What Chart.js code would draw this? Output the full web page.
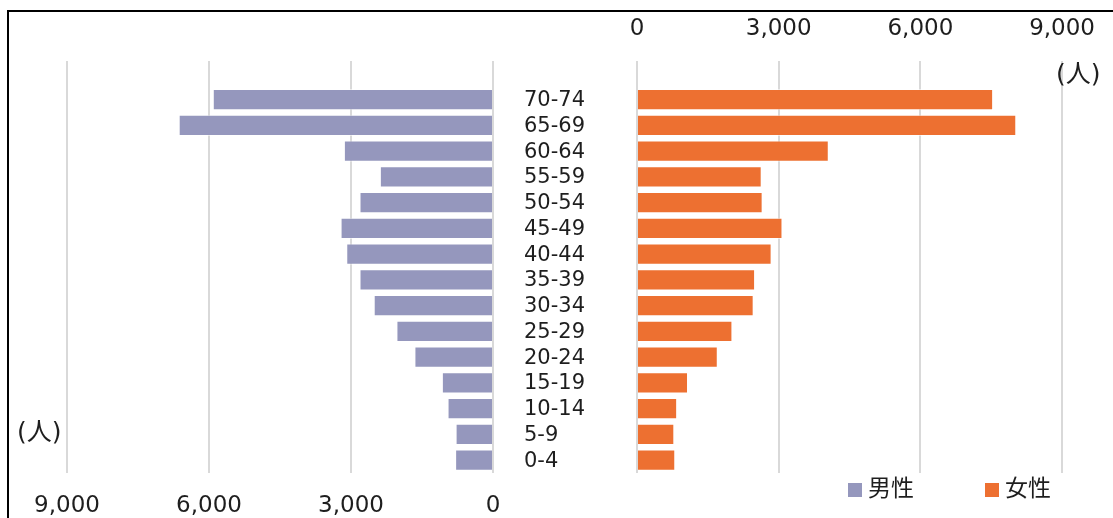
<!DOCTYPE html>
<html>
<head>
<meta charset="utf-8">
<script src="https://cdn.jsdelivr.net/npm/chart.js@4/dist/chart.umd.min.js"></script>
<style>
    body { margin: 0; background: #fff; }
    #wrap { position: relative; width: 1113px; height: 518px; overflow: hidden; font-family: "DejaVu Sans", Verdana, sans-serif; color: #1e1e1e; }
    #frame { position: absolute; left: 7px; top: 10px; width: 1300px; height: 700px; border: 2px solid #000; box-sizing: border-box; }
    canvas { position: absolute; left: 0; top: 0; }
    .unit { position: absolute; font-size: 25px; line-height: 26px; font-family: "DejaVu Sans", "Noto Sans CJK JP", sans-serif; }
    .key { position: absolute; top: 471px; height: 30px; line-height: 30px; font-size: 23px; font-family: "Noto Sans CJK JP", sans-serif; white-space: nowrap; }
    .key i { display: inline-block; width: 14px; height: 14px; margin-right: 6px; vertical-align: -1px; }
</style>
</head>
<body>
<div id="wrap">
    <div id="frame"></div>
    <canvas id="maleChart" width="1113" height="518"></canvas>
    <canvas id="femaleChart" width="1113" height="518"></canvas>
    <div class="unit" style="left:1056px; top:61px">(人)</div>
    <div class="unit" style="left:17px; top:419px">(人)</div>
    <div class="key" style="left:848px"><i style="background:#9597BD"></i>男性</div>
    <div class="key" style="left:985px"><i style="background:#ED7031"></i>女性</div>
</div>
<script>
let ageGroups = ["70-74", "65-69", "60-64", "55-59", "50-54", "45-49", "40-44", "35-39",
    "30-34", "25-29", "20-24", "15-19", "10-14", "5-9", "0-4"]
let maleValues = [5920, 6640, 3150, 2390, 2820, 3220, 3100, 2820, 2520, 2040, 1660, 1080, 960, 790, 800]
let femaleValues = [7540, 8030, 4060, 2640, 2660, 3080, 2850, 2500, 2470, 2020, 1710, 1080, 850, 790, 810]
let axisTicks = [0, 3000, 6000, 9000]

const MALE_COLOR = "#9597BD"
const FEMALE_COLOR = "#ED7031"
const GRID = "#D9D9D9"
const TEXT = "#1e1e1e"

// empty band above 70-74 (the plot area starts one row higher)
let rowLabels = [""].concat(ageGroups)

//#region shared axis config
ValueAxis = (position, reverse, pad) => ({
    type: "linear",
    position,
    reverse,
    min: 0,
    max: 9000,
    afterBuildTicks: scale => { scale.ticks = axisTicks.map(value => ({ value })) },
    afterFit: scale => { scale.height = position === "top" ? 61 : 45 },
    grid: { color: GRID, lineWidth: 2, drawTicks: false },
    border: { display: false },
    ticks: {
        padding: pad,
        color: TEXT,
        font: { family: "DejaVu Sans", size: 23 },
        callback: v => v.toLocaleString("en-US")
    }
})

BarSet = (label, values, color) => ({
    label,
    data: [null].concat(values),
    backgroundColor: color,
    borderColor: "rgba(255,255,255,0.55)",
    borderWidth: 1,
    categoryPercentage: 1,
    barPercentage: 0.82
})

const common = {
    indexAxis: "y",
    responsive: false,
    animation: false,
    devicePixelRatio: 1,
    plugins: { legend: { display: false }, tooltip: { enabled: false } }
}
//#endregion

//#region male (left)
new Chart("maleChart", {
    type: "bar",
    data: { labels: rowLabels, datasets: [BarSet("男性", maleValues, MALE_COLOR)] },
    options: {
        ...common,
        layout: { padding: { left: 67, right: 620, top: 61, bottom: 0 } },
        scales: {
            x: ValueAxis("bottom", true, 19),
            y: { type: "category", display: false }
        }
    }
})
//#endregion

//#region female (right) + age labels
new Chart("femaleChart", {
    type: "bar",
    data: { labels: rowLabels, datasets: [BarSet("女性", femaleValues, FEMALE_COLOR)] },
    options: {
        ...common,
        layout: { padding: { left: 524, right: 48, top: 0, bottom: 45 } },
        scales: {
            x: ValueAxis("top", false, 18),
            y: {
                type: "category",
                position: "left",
                afterFit: scale => { scale.width = 113 },
                grid: { display: false },
                border: { display: false },
                ticks: {
                    autoSkip: false,
                    crossAlign: "far",
                    padding: 0,
                    labelOffset: 1,
                    color: TEXT,
                    font: { family: "DejaVu Sans", size: 21 }
                }
            }
        }
    }
})
//#endregion
</script>
</body>
</html>
